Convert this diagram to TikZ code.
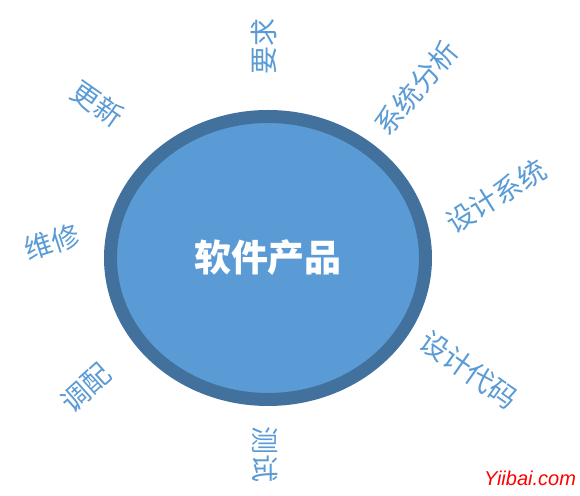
\documentclass[tikz,border=0pt]{standalone}
\usepackage{fontspec}
\usepackage{xcolor}
\usepackage{tikz}
\usetikzlibrary{shapes.geometric}
\newfontfamily\cjk{Noto Sans CJK SC}
\newfontfamily\wmfont{Liberation Sans}
\definecolor{rimblue}{HTML}{41719C}
\definecolor{fillblue}{HTML}{5B9BD5}

\begin{document}
\begin{tikzpicture}[x=0.5pt,y=-0.5pt,
        phase/.style={text=fillblue,font=\cjk\fontsize{14}{16}\selectfont,inner sep=0pt}]
        \useasboundingbox (0,0) rectangle (580,496);
        \node[ellipse,draw=rimblue,fill=fillblue,line width=6.5pt,minimum width=157.5pt,minimum height=141.5pt,inner sep=0pt,text=white,font=\cjk\bfseries\fontsize{18.5}{20}\selectfont] (prod) at (268,258) {软件产品};
        \node[phase,rotate=90] (req) at (264,47) {要求};
        \node[phase,rotate=50] (anal) at (416,88) {系统分析};
        \node[phase,rotate=32] (dsys) at (496,196) {设计系统};
        \node[phase,rotate=-35] (dcode) at (469,370) {设计代码};
        \node[phase,rotate=-90] (test) at (265,455) {测试};
        \node[phase,rotate=42] (deploy) at (86,388) {调配};
        \node[phase,rotate=18] (maint) at (52,242) {维修};
        \node[phase,rotate=-35] (upd) at (98,104) {更新};
        \node[text=red,font=\wmfont\itshape\fontsize{10}{12}\selectfont] (wm) at (530,478) {Yiibai.com};
    \end{tikzpicture}
\end{document}
